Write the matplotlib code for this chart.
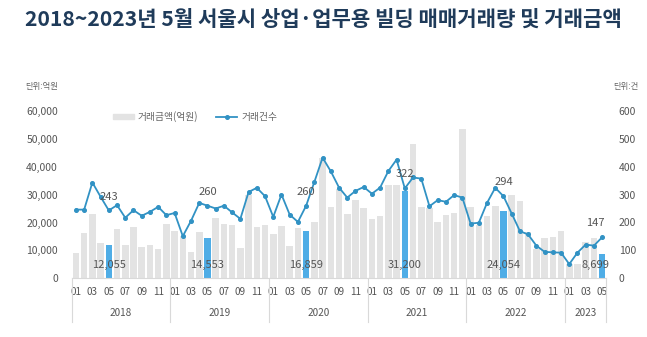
"""
2018~2023년 5월 서울시 상업·업무용 빌딩 매매거래량 및 거래금액
"""

import matplotlib.pyplot as plt
import matplotlib.transforms as mtransforms
from matplotlib.lines import Line2D
import numpy as np

plt.rcParams["font.family"] = ["Noto Sans CJK KR", "DejaVu Sans"]

# 데이터
years = ["2018", "2019", "2020", "2021", "2022", "2023"]
months_per_year = [12, 12, 12, 12, 12, 5]

# 거래금액(억원)
amount = [
    8900, 16300, 23200, 12500, 12055, 17500, 11900, 18400, 11300, 11900, 10500, 19600,
    16900, 15100, 9300, 16700, 14553, 21700, 19600, 19000, 10700, 29750, 18400, 19000,
    15700, 18700, 11700, 17900, 16859, 20000, 43200, 25600, 32100, 23000, 28000, 25300,
    21100, 22300, 33300, 33300, 31200, 48200, 25600, 25300, 20000, 22600, 23400, 53600,
    25600, 19000, 22300, 25800, 24054, 30000, 27600, 16700, 10400, 14300, 14900, 16900,
    5100, 5000, 13000, 14300, 8699,
]
# 거래건수(건)
count = [
    246, 246, 343, 292, 243, 262, 217, 244, 224, 238, 256, 226,
    234, 151, 206, 270, 260, 250, 260, 236, 213, 309, 324, 294,
    220, 300, 228, 202, 260, 345, 432, 383, 325, 289, 313, 327,
    303, 325, 384, 425, 322, 361, 357, 258, 280, 274, 298, 289,
    196, 199, 270, 324, 294, 232, 169, 157, 117, 95, 93, 92,
    51, 92, 121, 117, 147,
]

GRAY = "#e3e3e3"
BLUE = "#4fade6"
LINE = "#3192c4"
TEXT = "#555555"

months = [m for n in months_per_year for m in range(1, n + 1)]
x = np.arange(len(amount))
is_may = np.array(months) == 5

fig = plt.figure(figsize=(6.47, 3.37), dpi=100)
ax = fig.add_axes([0.111, 0.174, 0.826, 0.4975])

# 거래금액 막대
colors = [BLUE if m else GRAY for m in is_may]
ax.bar(x, amount, width=0.8, color=colors, zorder=2)
ax.set_xlim(-0.5, len(amount) - 0.5)
ax.set_ylim(0, 60000)
ax.set_yticks(range(0, 60001, 10000))
ax.set_yticklabels([f"{v:,}" for v in range(0, 60001, 10000)])
ax.tick_params(axis="y", length=0, pad=10, labelsize=7.5, colors=TEXT)

odd = [i for i, m in enumerate(months) if m % 2 == 1]
ax.set_xticks(odd)
ax.set_xticklabels([f"{months[i]:02d}" for i in odd])
ax.tick_params(axis="x", length=0, pad=6, labelsize=7.2, colors=TEXT)

for s in ["top", "left", "right"]:
    ax.spines[s].set_visible(False)
ax.spines["bottom"].set_color("#d9d9d9")

# 거래건수 선
ax2 = ax.twinx()
ax2.plot(x, count, color=LINE, lw=1.3, marker="o", ms=2.6, zorder=3)
ax2.set_ylim(0, 600)
ax2.set_yticks(range(0, 601, 100))
ax2.tick_params(axis="y", length=0, pad=9, labelsize=7.5, colors=TEXT)
for s in ax2.spines.values():
    s.set_visible(False)

# 5월 값 표시
for i in x[is_may]:
    dx = -5 if i == x[-1] else 0
    ax.annotate(f"{amount[i]:,}", (i, 0), xytext=(dx, 9.5), textcoords="offset points",
                ha="center", va="center", fontsize=8, color=TEXT)
    ax2.annotate(f"{count[i]}", (i, count[i]), xytext=(dx, 10), textcoords="offset points",
                 ha="center", va="center", fontsize=8, color=TEXT)

# 연도 구분선과 연도 라벨
trans = mtransforms.blended_transform_factory(ax.transData, fig.transFigure)
edges = np.concatenate([[0], np.cumsum(months_per_year)]) - 0.5
for e in edges:
    fig.add_artist(Line2D([e, e], [0.174, 0.045], transform=trans, color="#d9d9d9", lw=0.8))
for y0, y1, label in zip(edges[:-1], edges[1:], years):
    fig.text((y0 + y1) / 2, 0.071, label, transform=trans, ha="center", va="center",
             fontsize=7.2, color=TEXT)

# 범례
handles = [
    plt.Rectangle((0, 0), 1, 1, color=GRAY),
    Line2D([], [], color=LINE, lw=1.3, marker="o", ms=2.6),
]
leg = ax2.legend(handles, ["거래금액(억원)", "거래건수"], loc="upper left",
                 bbox_to_anchor=(0.06, 1.05), ncol=2, frameon=False, fontsize=7,
                 handlelength=2.2, handleheight=0.5, handletextpad=0.4, columnspacing=1.8)
for t in leg.get_texts():
    t.set_color("#666666")

fig.text(0.065, 1 - 87 / 337, "단위:억원", ha="center", va="center", fontsize=6, color="#666666")
fig.text(0.967, 1 - 87 / 337, "단위:건", ha="center", va="center", fontsize=6, color="#666666")

fig.text(0.5, 1 - 19 / 337, "2018~2023년 5월 서울시 상업·업무용 빌딩 매매거래량 및 거래금액",
         ha="center", va="center", fontsize=15.2, fontweight="bold", color="#1f3b5a")

plt.savefig("out.png", dpi=100)
plt.close()
